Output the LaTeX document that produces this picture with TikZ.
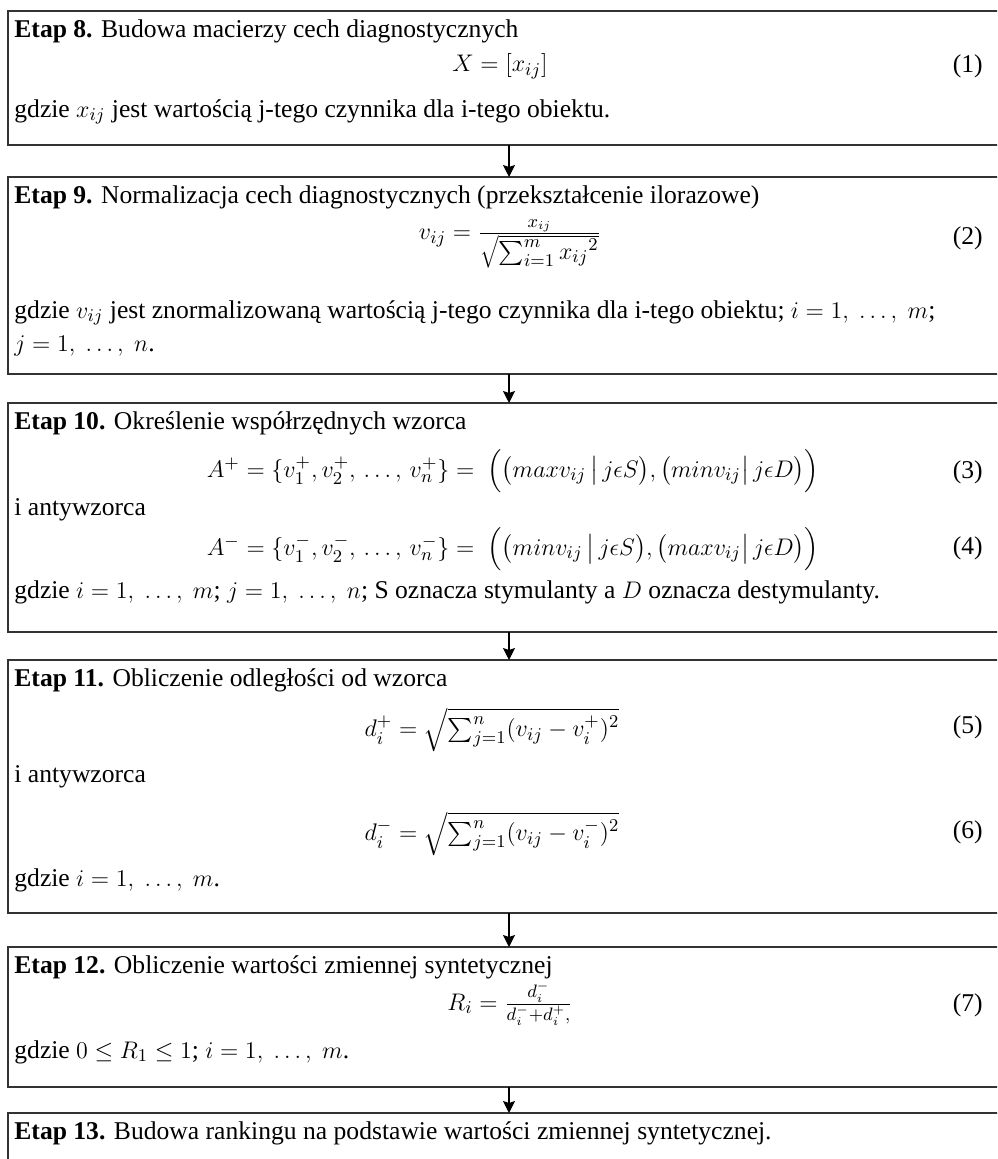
\documentclass[tikz,border=0pt]{standalone}
\usepackage{fontspec}
\setmainfont{Liberation Serif}
\usepackage{amsmath}
\usetikzlibrary{arrows.meta}

\begin{document}
\begin{tikzpicture}[x=0.5pt, y=-0.5pt,
    stagebox/.style={draw=black!80, line width=1pt, inner sep=0pt, outer sep=0pt,
                     minimum width=501pt, anchor=north west},
    txt/.style={anchor=west, inner sep=0pt, font=\fontsize{12.8}{15}\selectfont},
    frm/.style={inner sep=0pt, font=\fontsize{12.6}{15}\selectfont},
    eqno/.style={anchor=east, inner sep=0pt, font=\fontsize{12.8}{15}\selectfont},
    arr/.style={-{Stealth[length=6pt, width=6pt, inset=1pt]}, line width=0.6pt}]

    \useasboundingbox (0,0) rectangle (997,1159);
    \clip (0,0) rectangle (997,1159);
    \fill[white] (0,0) rectangle (997,1159);

    % --- Etap 8 ---
    \node[stagebox, minimum height=67pt] (s8) at (8,11) {};
    \node[txt] (t8) at (14,31) {\textbf{Etap 8.} Budowa macierzy cech diagnostycznych};
    \node[frm] (f8) at (500,66) {$X=[x_{ij}]$};
    \node[eqno] (n8) at (983,66) {(1)};
    \node[txt] (g8) at (14,112) {gdzie $x_{ij}$ jest wartością j-tego czynnika dla i-tego obiektu.};

    % --- Etap 9 ---
    \node[stagebox, minimum height=98.5pt] (s9) at (8,177) {};
    \node[txt] (t9) at (14,197) {\textbf{Etap 9.} Normalizacja cech diagnostycznych (przekształcenie ilorazowe)};
    \node[frm] (f9) at (510,244) {$v_{ij}=\frac{x_{ij}}{\sqrt{\textstyle\sum_{i=1}^{m}{x_{ij}}^{2}}}$};
    \node[eqno] (n9) at (983,238) {(2)};
    \node[txt] (g9) at (14,313) {gdzie $v_{ij}$ jest znormalizowaną wartością j-tego czynnika dla i-tego obiektu; $i=1,\ \ldots,\ m$;};
    \node[txt] (h9) at (14,346) {$j=1,\ \ldots,\ n$.};

    % --- Etap 10 ---
    \node[stagebox, minimum height=114.5pt] (s10) at (8,403) {};
    \node[txt] (t10) at (14,423) {\textbf{Etap 10.} Określenie współrzędnych wzorca};
    \node[frm] (f10a) at (513,471) {$A^{+}=\{v_1^{+},v_2^{+},\,\ldots,\,v_n^{+}\}=\ \Bigl(\bigl(maxv_{ij}\,\big|\,j\epsilon S\bigr),\bigl(minv_{ij}\big|\,j\epsilon D\bigr)\Bigr)$};
    \node[eqno] (n10a) at (983,472) {(3)};
    \node[txt] (a10) at (14,510) {i antywzorca};
    \node[frm] (f10b) at (513,549) {$A^{-}=\{v_1^{-},v_2^{-},\,\ldots,\,v_n^{-}\}=\ \Bigl(\bigl(minv_{ij}\,\big|\,j\epsilon S\bigr),\bigl(maxv_{ij}\big|\,j\epsilon D\bigr)\Bigr)$};
    \node[eqno] (n10b) at (983,548) {(4)};
    \node[txt] (g10) at (14,592) {gdzie $i=1,\ \ldots,\ m$; $j=1,\ \ldots,\ n$; S oznacza stymulanty a $D$ oznacza destymulanty.};

    % --- Etap 11 ---
    \node[stagebox, minimum height=126.5pt] (s11) at (8,660) {};
    \node[txt] (t11) at (14,680) {\textbf{Etap 11.} Obliczenie odległości od wzorca};
    \node[frm] (f11a) at (492,730) {$d_i^{+}=\sqrt{\textstyle\sum_{j=1}^{n}(v_{ij}-v_i^{+})^{2}\vphantom{\big(}}$};
    \node[eqno] (n11a) at (983,727) {(5)};
    \node[txt] (a11) at (14,777) {i antywzorca};
    \node[frm] (f11b) at (492,834) {$d_i^{-}=\sqrt{\textstyle\sum_{j=1}^{n}(v_{ij}-v_i^{-})^{2}\vphantom{\big(}}$};
    \node[eqno] (n11b) at (983,832) {(6)};
    \node[txt] (g11) at (14,880) {gdzie $i=1,\ \ldots,\ m$.};

    % --- Etap 12 ---
    \node[stagebox, minimum height=70pt] (s12) at (8,947) {};
    \node[txt] (t12) at (14,967) {\textbf{Etap 12.} Obliczenie wartości zmiennej syntetycznej};
    \node[frm] (f12) at (510,1004) {$R_i=\frac{d_i^{-}}{d_i^{-}+d_i^{+},}$};
    \node[eqno] (n12) at (983,1005) {(7)};
    \node[txt] (g12) at (14,1052) {gdzie $0\le R_1\le 1$; $i=1,\ \ldots,\ m$.};

    % --- Etap 13 ---
    \node[stagebox, minimum height=45pt] (s13) at (8,1113) {};
    \node[txt] (t13) at (14,1133) {\textbf{Etap 13.} Budowa rankingu na podstawie wartości zmiennej syntetycznej.};

    % --- strzałki ---
    \draw[arr] (s8) -- (s9);
    \draw[arr] (s9) -- (s10);
    \draw[arr] (s10) -- (s11);
    \draw[arr] (s11) -- (s12);
    \draw[arr] (s12) -- (s13);

\end{tikzpicture}
\end{document}
